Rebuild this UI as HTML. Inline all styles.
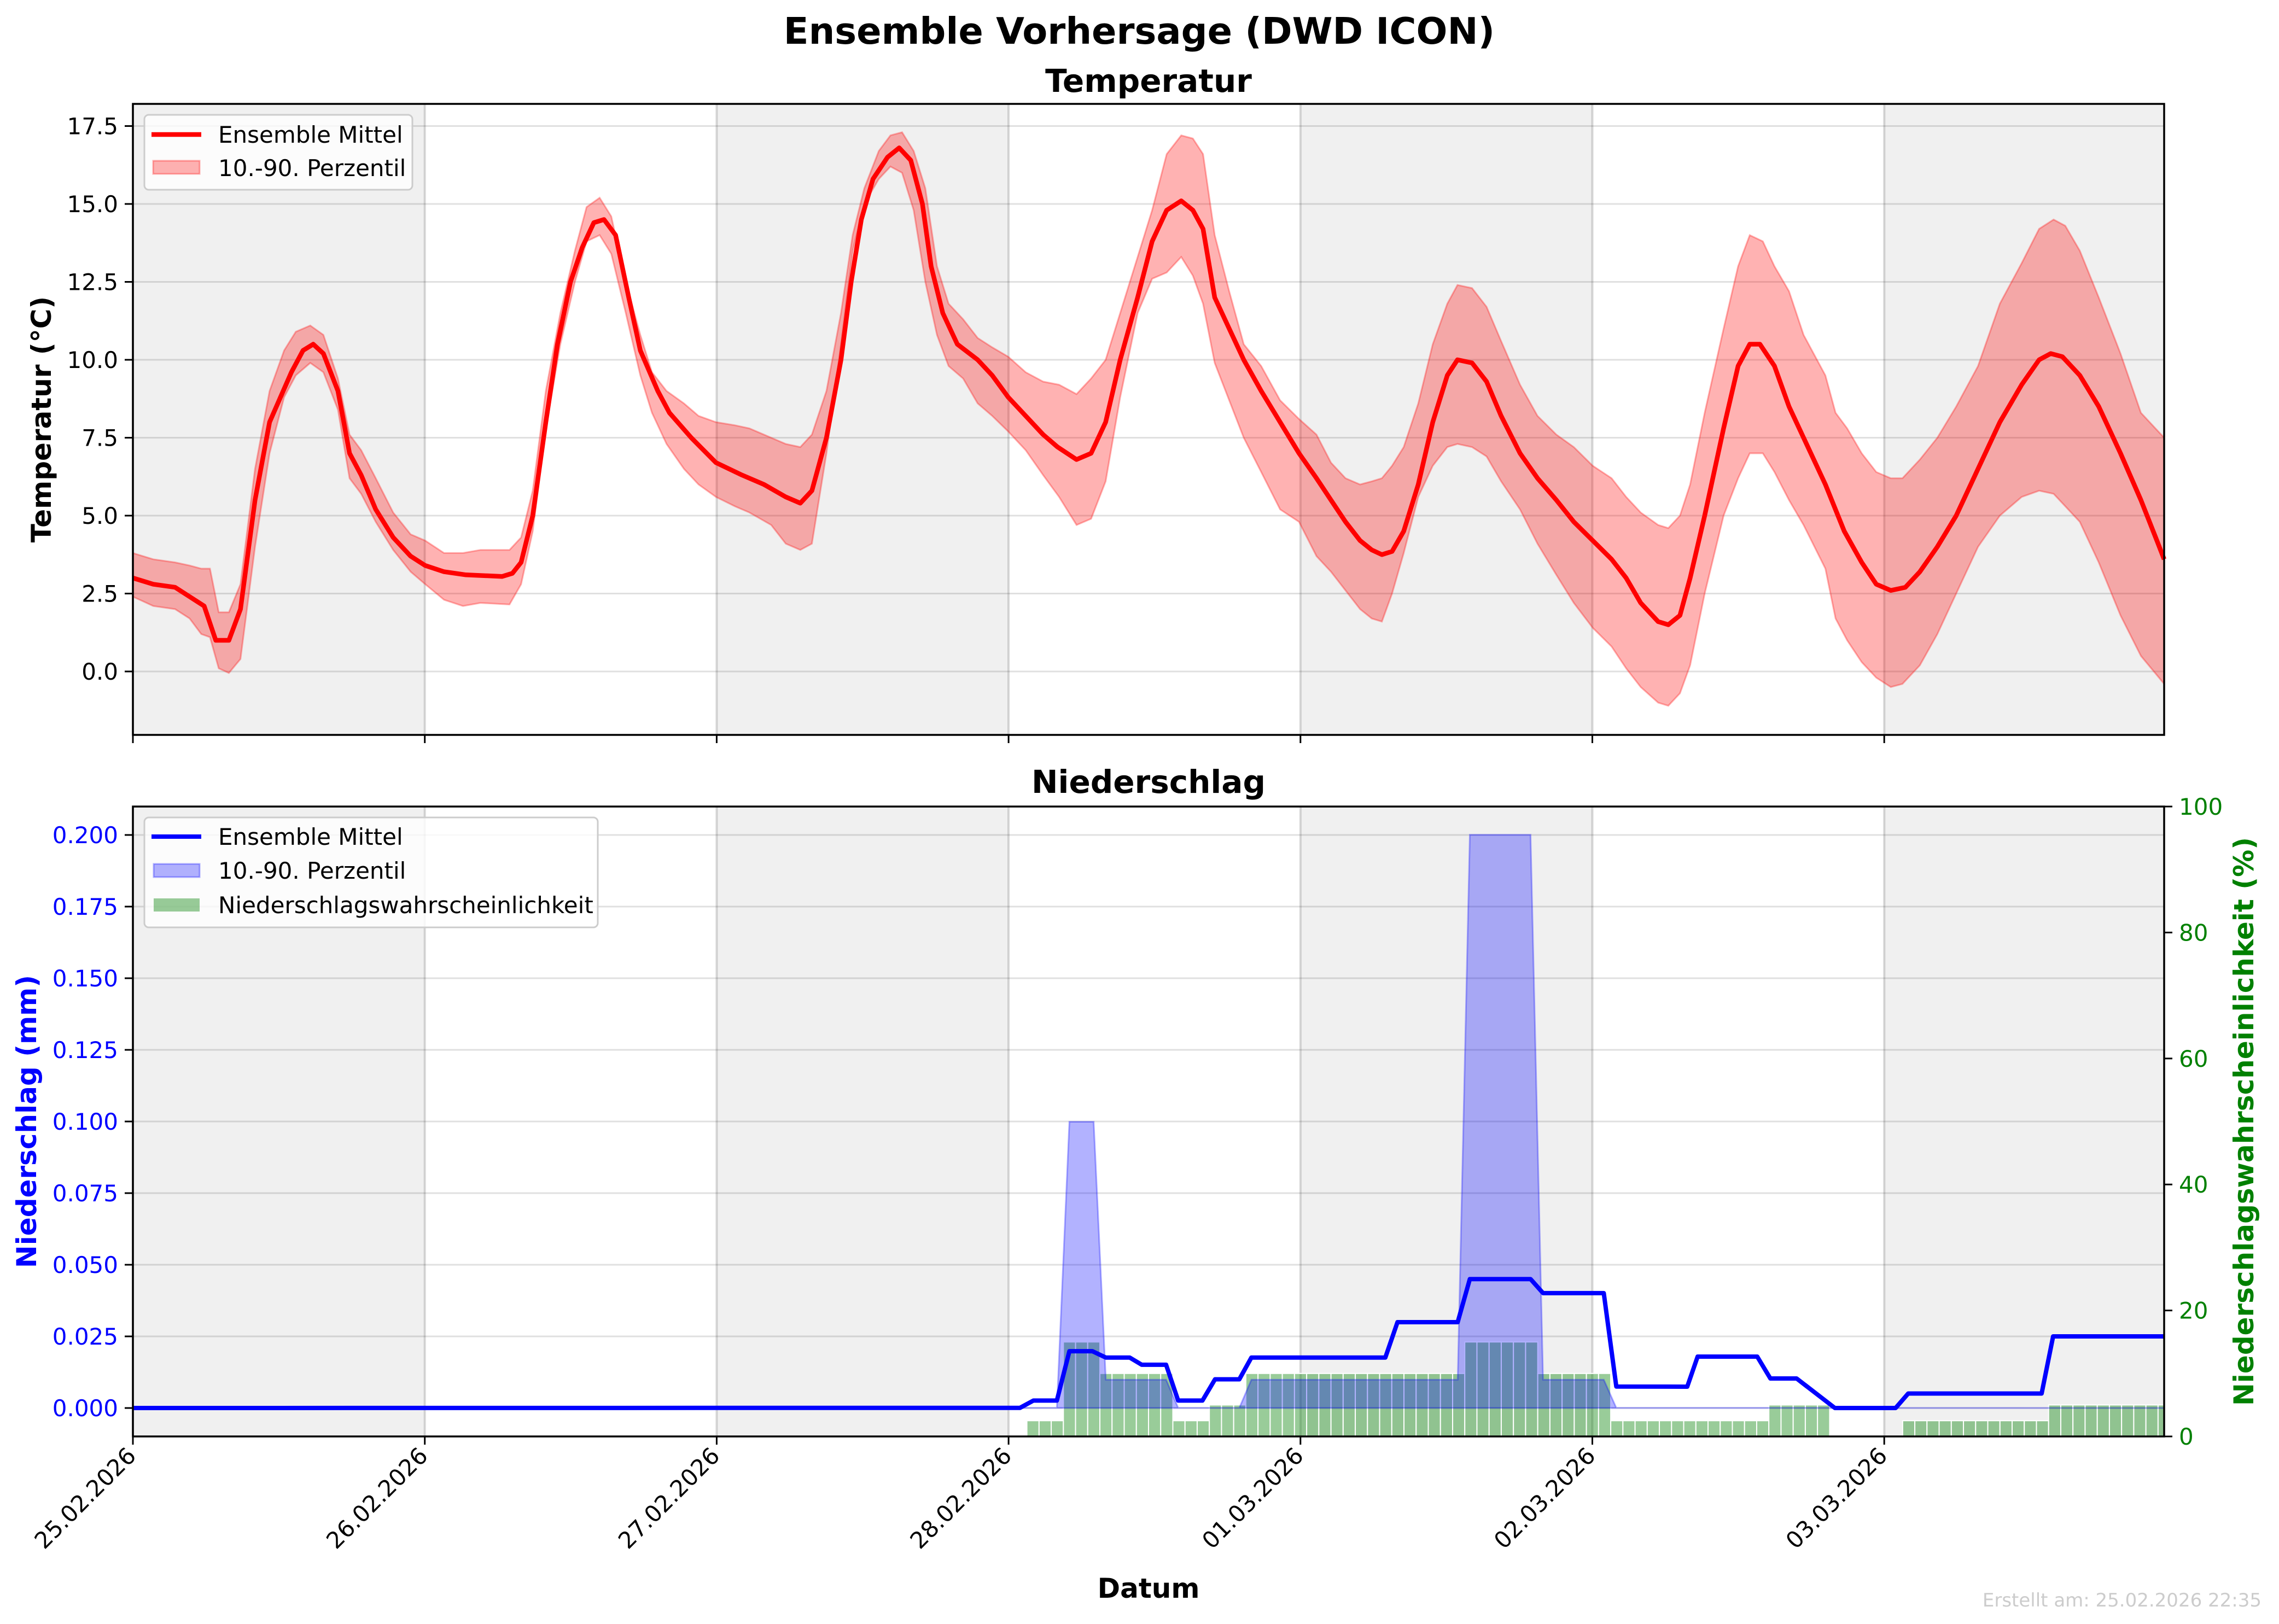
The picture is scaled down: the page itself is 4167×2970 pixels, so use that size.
<!DOCTYPE html>
<html><head><meta charset="utf-8"><style>
html,body{margin:0;padding:0;background:#fff;}
svg{display:block;}
text{font-family:"DejaVu Sans","Liberation Sans",sans-serif;}
</style></head><body>
<svg id="s" width="4167" height="2970" viewBox="0 0 4167 2970" xmlns="http://www.w3.org/2000/svg">
<rect width="4167" height="2970" fill="#fff"/>
<g id="gtop"></g>
<g id="gbot"></g>
<text x="2083" y="80" font-size="67" font-weight="bold" text-anchor="middle">Ensemble Vorhersage (DWD ICON)</text>
<text x="2100" y="168" font-size="58" font-weight="bold" text-anchor="middle">Temperatur</text>
<text x="2100" y="1450" font-size="58" font-weight="bold" text-anchor="middle">Niederschlag</text>
<text x="2100" y="2922" font-size="50" font-weight="bold" text-anchor="middle">Datum</text>
<text x="4135" y="2938" font-size="34" fill="#cccccc" text-anchor="end">Erstellt am: 25.02.2026 22:35</text>
<text transform="translate(93,767) rotate(-90)" font-size="50" font-weight="bold" text-anchor="middle">Temperatur (°C)</text>
<text transform="translate(66,2051) rotate(-90)" font-size="50" font-weight="bold" fill="#0000ff" text-anchor="middle">Niederschlag (mm)</text>
<text transform="translate(4120,2051) rotate(-90)" font-size="50" font-weight="bold" fill="#008000" text-anchor="middle">Niederschlagswahrscheinlichkeit (%)</text>
</svg>
<script>
(function(){
var NS="http://www.w3.org/2000/svg";
function el(p,t,a,txt){var e=document.createElementNS(NS,t);for(var k in a)e.setAttribute(k,a[k]);if(txt!==undefined)e.textContent=txt;p.appendChild(e);return e;}
var L=243,R=3957,DW=533.7;
function X(ox){return L+(ox-91)*(R-L)/(1488-91);}
var gT=document.getElementById('gtop'),gB=document.getElementById('gbot');
var T0=190,T1=1344,B0=1475,B1=2627;
[[T0,T1,gT],[B0,B1,gB]].forEach(function(a){
 el(a[2],'rect',{x:L,y:a[0],width:R-L,height:a[1]-a[0],fill:'#fff'});
 for(var d=0;d<7;d+=2){var x0=L+d*DW,x1=Math.min(R,x0+DW);el(a[2],'rect',{x:x0,y:a[0],width:x1-x0,height:a[1]-a[0],fill:'#f0f0f0'});}
 for(var d=0;d<7;d++){var x=L+d*DW;el(a[2],'line',{x1:x,x2:x,y1:a[0],y2:a[1],stroke:'#000','stroke-opacity':0.15,'stroke-width':4});}
});
function TY(t){return 1228-t*57;}
for(var t=0;t<=17.5;t+=2.5){var y=TY(t);el(gT,'line',{x1:L,x2:R,y1:y,y2:y,stroke:'#000','stroke-opacity':0.12,'stroke-width':3});
 el(gT,'line',{x1:L-15,x2:L,y1:y,y2:y,stroke:'#000','stroke-width':3});
 el(gT,'text',{x:L-27,y:y+15,'font-size':42,'text-anchor':'end'},t.toFixed(1));}
var band=[[91,2.4,3.8],[105,2.1,3.6],[120,2.0,3.5],[130,1.7,3.4],[138,1.2,3.3],[144,1.1,3.3],[150,0.1,1.9],[157,-0.05,1.9],[165,0.4,2.8],[175,4,6.5],[185,7,9],[195,8.8,10.3],[203,9.5,10.9],[213,9.9,11.1],[222,9.6,10.8],[232,8.4,9.4],[240,6.2,7.6],[248,5.7,7.1],[258,4.8,6.2],[270,3.9,5.1],[282,3.2,4.4],[292,2.8,4.2],[305,2.3,3.8],[318,2.1,3.8],[330,2.2,3.9],[350,2.15,3.9],[358,2.8,4.3],[366,4.5,5.8],[375,7.8,9],[385,10.5,11.5],[395,12.5,13.5],[403,13.8,14.9],[412,14,15.2],[420,13.4,14.6],[430,11.5,12.5],[440,9.5,10.8],[448,8.3,9.6],[458,7.3,9.0],[470,6.5,8.6],[480,6,8.2],[492,5.6,8.0],[505,5.3,7.9],[515,5.1,7.8],[530,4.7,7.5],[540,4.1,7.3],[550,3.9,7.2],[558,4.1,7.6],[568,7,9],[578,10.5,11.5],[586,13.5,14],[594,15,15.5],[604,15.8,16.7],[612,16.2,17.2],[620,16,17.3],[628,14.8,16.7],[636,12.5,15.5],[644,10.8,13],[652,9.8,11.8],[662,9.4,11.3],[672,8.6,10.7],[682,8.2,10.4],[693,7.7,10.1],[705,7.1,9.6],[717,6.3,9.3],[728,5.6,9.2],[740,4.7,8.9],[750,4.9,9.4],[760,6.1,10],[770,8.8,11.5],[782,11.5,13.3],[792,12.6,14.8],[802,12.8,16.6],[812,13.3,17.2],[820,12.7,17.1],[827,11.8,16.6],[835,9.9,14],[845,8.7,12.2],[855,7.5,10.5],[867,6.4,9.8],[880,5.2,8.7],[893,4.8,8.1],[905,3.7,7.6],[915,3.2,6.7],[925,2.6,6.2],[935,2.0,6.0],[943,1.7,6.1],[950,1.6,6.2],[957,2.5,6.6],[965,3.8,7.2],[975,5.6,8.6],[985,6.6,10.5],[995,7.2,11.8],[1002,7.3,12.4],[1012,7.2,12.3],[1022,6.9,11.7],[1032,6.1,10.6],[1045,5.2,9.2],[1057,4.1,8.2],[1070,3.1,7.6],[1082,2.2,7.2],[1095,1.4,6.6],[1108,0.8,6.2],[1118,0.1,5.6],[1128,-0.5,5.1],[1140,-1.0,4.7],[1147,-1.1,4.6],[1155,-0.7,5.0],[1162,0.2,6],[1172,2.5,8.3],[1185,5,11],[1195,6.2,13],[1203,7,14],[1212,7,13.8],[1220,6.4,13],[1230,5.5,12.2],[1240,4.7,10.8],[1255,3.3,9.5],[1262,1.7,8.3],[1270,1,7.8],[1280,0.3,7],[1290,-0.2,6.4],[1300,-0.5,6.2],[1308,-0.4,6.2],[1320,0.2,6.8],[1332,1.2,7.5],[1345,2.5,8.5],[1360,4,9.8],[1375,5,11.8],[1390,5.6,13.1],[1402,5.8,14.2],[1412,5.7,14.5],[1420,5.3,14.3],[1430,4.8,13.5],[1443,3.5,12],[1458,1.8,10.2],[1472,0.5,8.3],[1488,-0.4,7.5]];
var mean=[[91,3.0],[105,2.8],[120,2.7],[140,2.1],[148,1.0],[157,1.0],[165,2],[175,5.5],[185,8],[200,9.6],[208,10.3],[215,10.5],[222,10.2],[232,9],[240,7],[248,6.3],[258,5.2],[270,4.3],[282,3.7],[292,3.4],[305,3.2],[320,3.1],[345,3.05],[352,3.15],[358,3.5],[366,5],[375,8],[383,10.5],[392,12.5],[400,13.6],[408,14.4],[415,14.5],[423,14],[432,12],[440,10.3],[452,9],[460,8.3],[475,7.5],[492,6.7],[510,6.3],[525,6],[540,5.6],[550,5.4],[558,5.8],[568,7.5],[578,10],[585,12.5],[592,14.5],[600,15.8],[610,16.5],[618,16.8],[626,16.4],[634,15],[640,13],[648,11.5],[658,10.5],[672,10],[682,9.5],[693,8.8],[705,8.2],[717,7.6],[727,7.2],[740,6.8],[750,7],[760,8],[770,10],[782,12],[792,13.8],[802,14.8],[812,15.1],[820,14.8],[827,14.2],[835,12],[845,11],[855,10],[867,9],[880,8],[893,7],[905,6.2],[915,5.5],[925,4.8],[935,4.2],[943,3.9],[950,3.75],[957,3.85],[965,4.5],[975,6],[985,8],[995,9.5],[1002,10],[1012,9.9],[1022,9.3],[1032,8.2],[1045,7],[1057,6.2],[1070,5.5],[1082,4.8],[1095,4.2],[1108,3.6],[1118,3],[1128,2.2],[1140,1.6],[1147,1.5],[1155,1.8],[1162,3],[1172,5],[1185,7.8],[1195,9.8],[1203,10.5],[1210,10.5],[1220,9.8],[1230,8.5],[1240,7.5],[1255,6],[1268,4.5],[1280,3.5],[1290,2.8],[1300,2.6],[1310,2.7],[1320,3.2],[1332,4],[1345,5],[1360,6.5],[1375,8],[1390,9.2],[1402,10],[1410,10.2],[1418,10.1],[1430,9.5],[1443,8.5],[1458,7],[1472,5.5],[1483,4.2],[1488,3.6]];
var up=band.map(function(p){return X(p[0]).toFixed(1)+','+TY(p[2]).toFixed(1);});
var lo=band.slice().reverse().map(function(p){return X(p[0]).toFixed(1)+','+TY(p[1]).toFixed(1);});
el(gT,'polygon',{points:up.concat(lo).join(' '),fill:'#ff0000','fill-opacity':0.3,stroke:'#ff0000','stroke-opacity':0.3,'stroke-width':3});
el(gT,'polyline',{points:mean.map(function(p){return X(p[0]).toFixed(1)+','+TY(p[1]).toFixed(1);}).join(' '),fill:'none',stroke:'#ff0000','stroke-width':8.5,'stroke-linejoin':'round'});
for(var d=0;d<7;d++){var x=L+d*DW;el(gT,'line',{x1:x,x2:x,y1:T1,y2:T1+15,stroke:'#000','stroke-width':3});}
el(gT,'rect',{x:L,y:T0,width:R-L,height:T1-T0,fill:'none',stroke:'#000','stroke-width':3.5});
el(gT,'rect',{x:264,y:210,width:490,height:137,rx:8,fill:'#fff','fill-opacity':0.8,stroke:'#ccc','stroke-width':3});
el(gT,'line',{x1:277,x2:368,y1:246,y2:246,stroke:'#ff0000','stroke-width':8.5});
el(gT,'rect',{x:280,y:294,width:85,height:24,fill:'#ff0000','fill-opacity':0.3,stroke:'#ff0000','stroke-opacity':0.3,'stroke-width':3});
el(gT,'text',{x:399,y:261,'font-size':42},'Ensemble Mittel');
el(gT,'text',{x:399,y:322,'font-size':42},'10.-90. Perzentil');
function BY(v){return 2575-v*5240;}
function PY(p){return B1-p*(B1-B0)/100;}
for(var i=0;i<=8;i++){var v=i*0.025,y=BY(v);el(gB,'line',{x1:L,x2:R,y1:y,y2:y,stroke:'#000','stroke-opacity':0.12,'stroke-width':3});
 el(gB,'line',{x1:L-15,x2:L,y1:y,y2:y,stroke:'#000','stroke-width':3});
 el(gB,'text',{x:L-27,y:y+15,'font-size':42,'text-anchor':'end',fill:'#0000ff'},v.toFixed(3));}
for(var p=0;p<=100;p+=20){var y=PY(p);el(gB,'line',{x1:R,x2:R+15,y1:y,y2:y,stroke:'#000','stroke-width':3});
 el(gB,'text',{x:R+27,y:y+15,'font-size':42,fill:'#008000'},String(p));}
var HX=function(h){return L+h*(R-L)/167;};
var segs=[[73.5,76.5,2.5],[76.5,79.5,15],[79.5,85.5,10],[85.5,88.5,2.5],[88.5,91.5,5],[91.5,109.5,10],[109.5,115.5,15],[115.5,121.5,10],[121.5,134.5,2.5],[134.5,139.5,5],[145.5,157.5,2.5],[157.5,167,5]];
segs.forEach(function(s){for(var h=s[0];h<s[1]-0.01;h+=1){var x0=HX(h),x1=HX(Math.min(h+1,s[1]));
 el(gB,'rect',{x:x0,y:PY(s[2]),width:x1-x0,height:B1-PY(s[2]),fill:'#008000','fill-opacity':0.4,stroke:'#fff','stroke-width':2});}});
function zx(x){return 1800+x/1.307;} function zy(y){return 1350+y/1.206;}
var bz=[[173,1477],[203,846],[261,846],[290,1415],[434,1415],[463,1477],[609,1477],[638,1415],[1131,1415],[1160,213],[1305,213],[1335,1415],[1480,1415],[1510,1477]];
var bp=[[L,2575]].concat(bz.map(function(p){return [zx(p[0]),zy(p[1])];})).concat([[R,2575]]);
el(gB,'polygon',{points:bp.map(function(p){return p[0].toFixed(1)+','+p[1].toFixed(1);}).join(' '),fill:'#0000ff','fill-opacity':0.3,stroke:'#0000ff','stroke-opacity':0.3,'stroke-width':3});
var mz=[[0,1477],[85,1477],[117,1461],[173,1461],[203,1352],[258,1352],[290,1366],[347,1366],[376,1382],[434,1382],[463,1461],[521,1461],[551,1414],[609,1414],[638,1366],[958,1366],[987,1288],[1131,1288],[1160,1193],[1305,1193],[1335,1224],[1480,1224],[1510,1430]];
var mp=[[L,2575]].concat(mz.map(function(p){return [zx(p[0]),zy(p[1])];})).concat([[3085,2536],[3104,2481],[3213,2481],[3237,2521],[3285,2521],[3355,2575],[3466,2575],[3489,2548.5],[3733,2548.5],[3754,2444],[R,2444]]);
el(gB,'polyline',{points:mp.map(function(p){return p[0].toFixed(1)+','+p[1].toFixed(1);}).join(' '),fill:'none',stroke:'#0000ff','stroke-width':8,'stroke-linejoin':'round'});
var lbls=['25.02.2026','26.02.2026','27.02.2026','28.02.2026','01.03.2026','02.03.2026','03.03.2026'];
for(var d=0;d<7;d++){var x=L+d*DW;el(gB,'line',{x1:x,x2:x,y1:B1,y2:B1+15,stroke:'#000','stroke-width':3});
 el(gB,'text',{transform:'translate('+(x+8)+','+(B1+38)+') rotate(-45)','font-size':42,'text-anchor':'end'},lbls[d]);}
el(gB,'rect',{x:L,y:B0,width:R-L,height:B1-B0,fill:'none',stroke:'#000','stroke-width':3.5});
el(gB,'rect',{x:264,y:1495,width:829,height:201,rx:8,fill:'#fff','fill-opacity':0.8,stroke:'#ccc','stroke-width':3});
el(gB,'line',{x1:277,x2:368,y1:1530,y2:1530,stroke:'#0000ff','stroke-width':8});
el(gB,'rect',{x:281,y:1580,width:84,height:24,fill:'#0000ff','fill-opacity':0.3,stroke:'#0000ff','stroke-opacity':0.3,'stroke-width':3});
el(gB,'rect',{x:281,y:1643,width:84,height:24,fill:'#008000','fill-opacity':0.4});
el(gB,'text',{x:399,y:1545,'font-size':42},'Ensemble Mittel');
el(gB,'text',{x:399,y:1607,'font-size':42},'10.-90. Perzentil');
el(gB,'text',{x:399,y:1670,'font-size':42},'Niederschlagswahrscheinlichkeit');
})();
</script>
</body></html>
